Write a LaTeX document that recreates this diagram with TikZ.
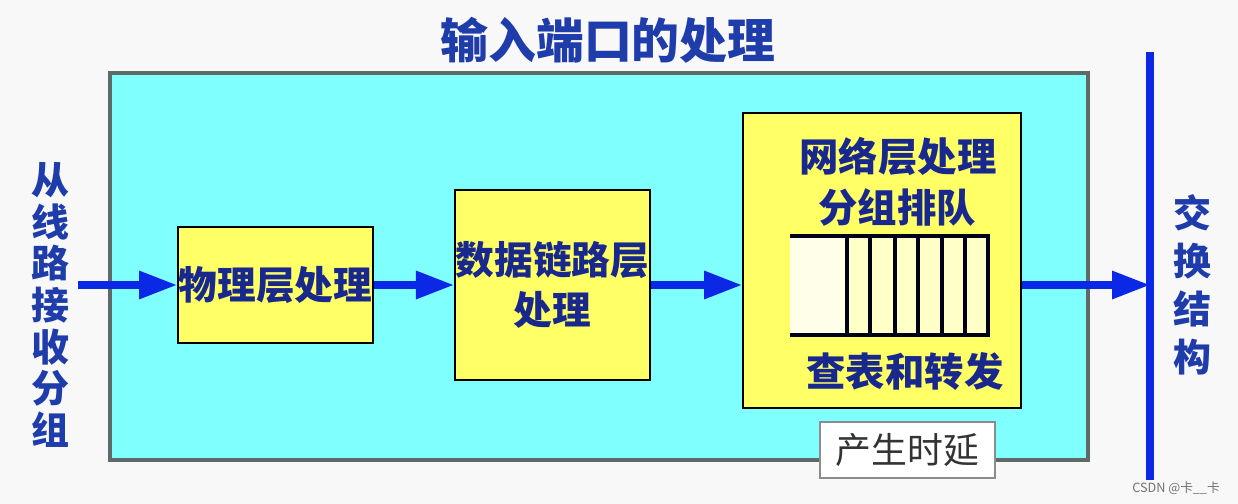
\documentclass[tikz,border=0pt]{standalone}
\usepackage{fontspec}
\usepackage{xcolor}
\usepackage{tikz}
\usetikzlibrary{arrows.meta, positioning}
\newfontfamily\cjk{Noto Sans CJK SC}
\definecolor{pagebg}{RGB}{248,248,248}
\definecolor{portcyan}{RGB}{128,255,255}
\definecolor{framegray}{RGB}{95,105,105}
\definecolor{procyellow}{RGB}{255,255,102}
\definecolor{queuepale}{RGB}{255,255,200}
\definecolor{txtblue}{RGB}{25,40,140}
\definecolor{headblue}{RGB}{30,60,170}
\definecolor{flowblue}{RGB}{10,40,230}
\tikzset{
  proc/.style={rectangle, draw=black, line width=1.3pt, fill=procyellow,
               text=txtblue, font=\cjk\bfseries\fontsize{27.5}{35.5}\selectfont,
               inner sep=0pt, align=center},
  flow/.style={-{Triangle[length=27pt, width=19pt]}, line width=5pt, flowblue},
  side/.style={text=headblue, font=\cjk\bfseries\fontsize{27}{29.6}\selectfont,
               align=center, inner sep=0pt},
  inlbl/.style={text=txtblue, font=\cjk\bfseries\fontsize{28}{35.5}\selectfont,
                inner sep=0pt},
  qline/.style={line width=2.6pt, black!90!blue},
}

\begin{document}
\begin{tikzpicture}[x=0.025cm, y=-0.025cm]
  \useasboundingbox[fill=pagebg] (0,0) rectangle (1238,504);
  %% title and input port frame
  \node[text=headblue, font=\cjk\bfseries\fontsize{34}{40}\selectfont] (title) at (608,40) {输入端口的处理};
  \node[rectangle, draw=framegray, line width=2.5pt, fill=portcyan,
        minimum width=24.45cm, minimum height=9.675cm] (port) at (599,266.5) {};
  %% processing blocks
  \node[proc, minimum width=4.875cm, minimum height=2.9cm] (phy) at (275.5,285) {物理层处理};
  \node[proc, minimum width=4.875cm, minimum height=4.75cm, right=2cm of phy] (link) {数据链路层\\处理};
  \node[proc, minimum width=6.95cm, minimum height=7.375cm] (net) at (882,260.5) {};
  \node[inlbl] (netname) at (898,157) {网络层处理};
  \node[inlbl] (queue) at (897,207) {分组排队};
  \node[inlbl] (lookup) at (905,372) {查表和转发};
  %% packet queue
  \fill[queuepale] (790,236) rectangle (988,335);
  \fill[white!60!queuepale] (790,236) rectangle (847,335);
  \draw[qline] (790,236) -- (988,236) -- (988,335) -- (790,335);
  \foreach \x in {847,870,895,918,942,965}
    \draw[qline] (\x,236) -- (\x,335);
  %% delay note
  \node[rectangle, draw=black!45, line width=0.8pt, fill=white, text=black!80,
        font=\cjk\fontsize{25.5}{30}\selectfont,
        minimum width=4.375cm, minimum height=1.4cm] (delay) at (907.5,450) {产生时延};
  %% line input and switch fabric
  \node[side] (recv) at (50,305) {从\\线\\路\\接\\收\\分\\组};
  \coordinate (bustop) at (1150,52);
  \coordinate (busbot) at (1150,480);
  \draw[line width=5pt, flowblue] (bustop) -- (busbot);
  \node[side, font=\cjk\bfseries\fontsize{27}{34}\selectfont] (fabric) at (1192,285) {交\\换\\结\\构};
  \coordinate (inlet) at (78,285);
  \draw[flow] (inlet) -- (phy.west);
  \draw[flow] (phy.east) -- (link.west);
  \draw[flow] (link.east) -- (link.east -| net.west);
  \draw[flow] (link.east -| net.east) -- (link.east -| bustop);
  %% watermark
  \node[text=black!55, font=\cjk\fontsize{9}{10}\selectfont] (mark) at (1176,488) {CSDN @卡\_\_卡};
\end{tikzpicture}
\end{document}
